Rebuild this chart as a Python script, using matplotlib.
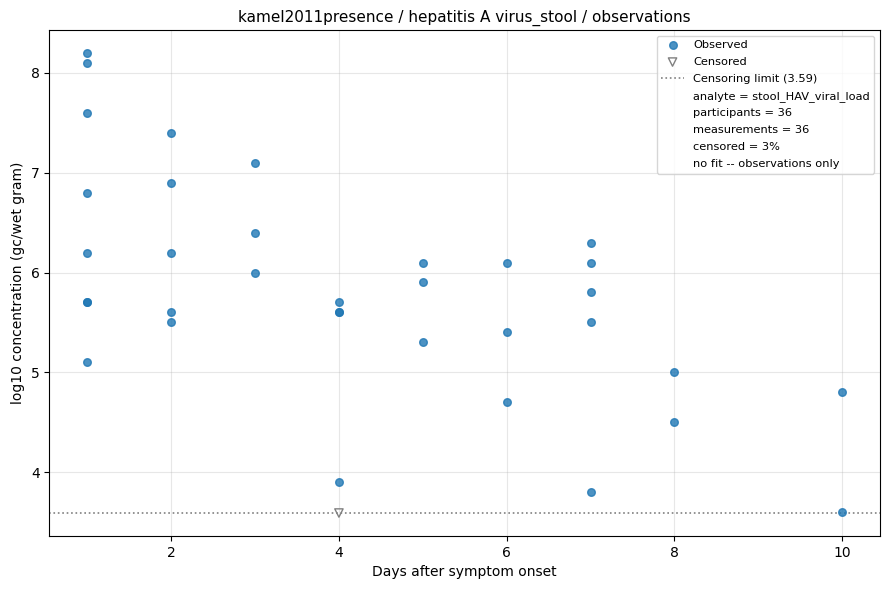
import matplotlib
matplotlib.use('Agg')
import matplotlib.pyplot as plt
from matplotlib.lines import Line2D

# observed values (day after symptom onset, log10 gc/wet gram)
obs_days = [1, 1, 1, 1, 1, 1, 1, 1,
            2, 2, 2, 2, 2,
            3, 3, 3,
            4, 4, 4, 4,
            5, 5, 5,
            6, 6, 6,
            7, 7, 7, 7, 7,
            8, 8,
            10, 10]
obs_vals = [8.2, 8.1, 7.6, 6.8, 6.2, 5.7, 5.7, 5.1,
            7.4, 6.9, 6.2, 5.6, 5.5,
            7.1, 6.4, 6.0,
            5.7, 5.6, 5.6, 3.9,
            6.1, 5.9, 5.3,
            6.1, 5.4, 4.7,
            6.3, 6.1, 5.8, 5.5, 3.8,
            5.0, 4.5,
            4.8, 3.6]
cens_days = [4]
cens_vals = [3.59]
limit = 3.59

info = ["analyte = stool_HAV_viral_load",
        "participants = 36",
        "measurements = 36",
        "censored = 3%",
        "no fit -- observations only"]

fig, ax = plt.subplots(figsize=(8.9, 5.9), dpi=100)

ax.scatter(obs_days, obs_vals, s=30, color='tab:blue', alpha=0.8, label='Observed', zorder=3)
ax.scatter(cens_days, cens_vals, s=36, marker='v', facecolors='none', edgecolors='gray',
           label='Censored', zorder=3)
ax.axhline(limit, color='gray', linestyle=':', linewidth=1.2, label='Censoring limit (%.2f)' % limit)

handles, labels = ax.get_legend_handles_labels()
for t in info:
    handles.append(Line2D([], [], linestyle='none', marker=None))
    labels.append(t)
ax.legend(handles, labels, loc='upper right', fontsize=8.2, labelspacing=0.6)

ax.grid(True, alpha=0.3)
ax.set_xlabel("Days after symptom onset")
ax.set_ylabel("log10 concentration (gc/wet gram)")
ax.set_title("kamel2011presence / hepatitis A virus_stool / observations", fontsize=11)

fig.subplots_adjust(left=0.0556, right=0.9888, top=0.9492, bottom=0.0915)
fig.savefig("out.png", dpi=100)
